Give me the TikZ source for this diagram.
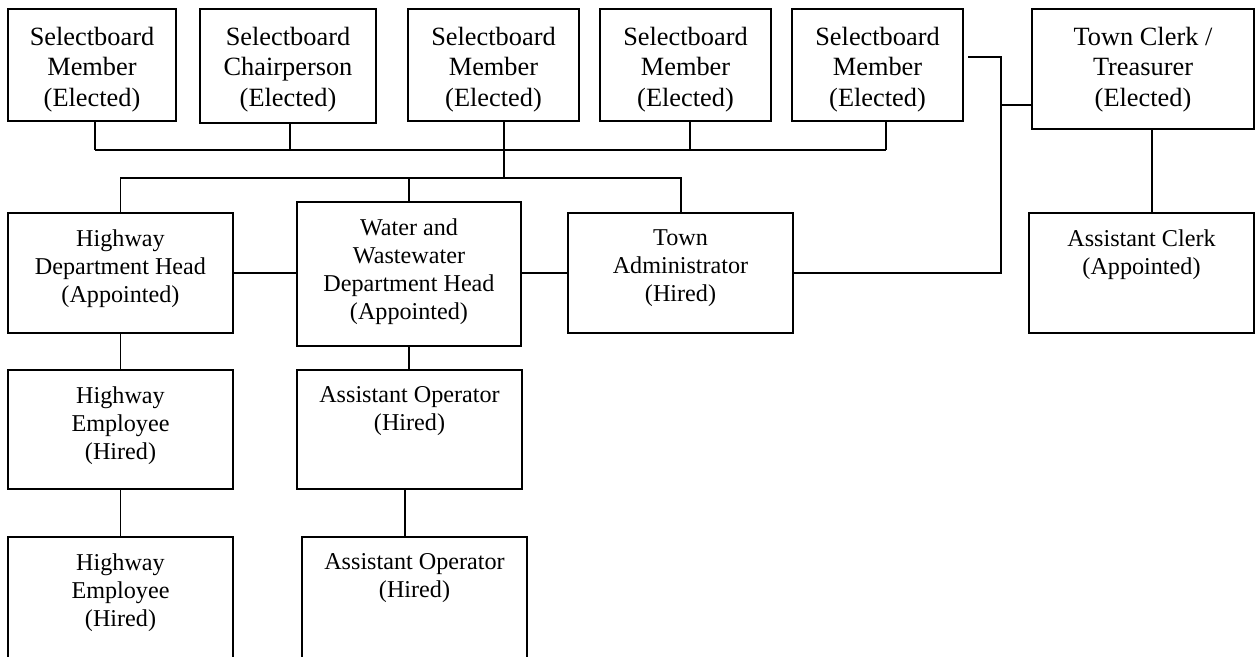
\documentclass[tikz,border=0pt]{standalone}
\usepackage{fontspec}
\setmainfont{Liberation Serif}
\usetikzlibrary{positioning,fit,calc}
\tikzset{
    box/.style={draw, line width=0.9pt, inner sep=0pt},
    bigtxt/.style={inner sep=0pt, align=center, font=\fontsize{12}{13.8}\selectfont},
    smalltxt/.style={inner sep=0pt, align=center, font=\fontsize{11}{12.75}\selectfont},
    link/.style={line width=0.9pt}
}

\begin{document}
\begin{tikzpicture}[x=0.016cm, y=-0.016cm]
    \useasboundingbox (0,0) rectangle (1256,656);
    % boxes
    \node[box, fit={(8,9) (176,121)}] (sb1) {};
    \node[box, fit={(200,9) (376,123)}] (sb2) {};
    \node[box, fit={(408,9) (579,121)}] (sb3) {};
    \node[box, fit={(600,9) (771,121)}] (sb4) {};
    \node[box, fit={(792,9) (963,121)}] (sb5) {};
    \node[box, fit={(1032,9) (1254,129)}] (clerk) {};
    \node[box, fit={(8,213) (233,333)}] (hwyhead) {};
    \node[box, fit={(297,202) (521,346)}] (water) {};
    \node[box, fit={(568,213) (793,333)}] (admin) {};
    \node[box, fit={(1029,213) (1254,333)}] (asstclerk) {};
    \node[box, fit={(8,370) (233,489)}] (hwyemp1) {};
    \node[box, fit={(297,370) (522,489)}] (op1) {};
    \node[box, fit={(8,537) (233,668)}] (hwyemp2) {};
    \node[box, fit={(302,537) (527,668)}] (op2) {};

    % texts
    \node[bigtxt, below=0.30cm of sb1.north] (sb1t) {Selectboard\\Member\\(Elected)};
    \node[bigtxt, below=0.30cm of sb2.north] (sb2t) {Selectboard\\Chairperson\\(Elected)};
    \node[bigtxt, below=0.30cm of sb3.north] (sb3t) {Selectboard\\Member\\(Elected)};
    \node[bigtxt, below=0.30cm of sb4.north] (sb4t) {Selectboard\\Member\\(Elected)};
    \node[bigtxt, below=0.30cm of sb5.north] (sb5t) {Selectboard\\Member\\(Elected)};
    \node[bigtxt, below=0.30cm of clerk.north] (clerkt) {Town Clerk /\\Treasurer\\(Elected)};
    \node[smalltxt, below=0.27cm of hwyhead.north] (hwyheadt) {Highway\\Department Head\\(Appointed)};
    \node[smalltxt, below=0.27cm of water.north] (watert) {Water and\\Wastewater\\Department Head\\(Appointed)};
    \node[smalltxt, below=0.27cm of admin.north] (admint) {Town\\Administrator\\(Hired)};
    \node[smalltxt, below=0.27cm of asstclerk.north] (asstclerkt) {Assistant Clerk\\(Appointed)};
    \node[smalltxt, below=0.27cm of hwyemp1.north] (hwyemp1t) {Highway\\Employee\\(Hired)};
    \node[smalltxt, below=0.27cm of op1.north] (op1t) {Assistant Operator\\(Hired)};
    \node[smalltxt, below=0.27cm of hwyemp2.north] (hwyemp2t) {Highway\\Employee\\(Hired)};
    \node[smalltxt, below=0.27cm of op2.north] (op2t) {Assistant Operator\\(Hired)};

    % connectors
    \coordinate (bus1w) at (95,150);
    \coordinate (bus1e) at (886,150);
    \coordinate (hub) at (504,178);
    \coordinate (riser) at (1001,57);
    \coordinate (stub) at (968,57);
    \coordinate (tap) at (1001,105);
    \draw[link] (bus1w) -- (bus1e);
    \draw[link] (sb1.south -| bus1w) -- (bus1w);
    \draw[link] ([xshift=0.03cm]sb2.south) -- ([xshift=0.03cm]sb2.south |- bus1w);
    \draw[link] ([xshift=0.07cm]sb4.south) -- ([xshift=0.07cm]sb4.south |- bus1w);
    \draw[link] (sb5.south -| bus1e) -- (bus1e);
    \draw[link] (sb3.south -| hub) -- (hub);
    \draw[link] (hwyhead.north) |- (hub) -| (admin.north);
    \draw[link] (water.north) -- (water.north |- hub);
    \draw[link] (hwyhead.east) -- (hwyhead.east -| water.west);
    \draw[link] (admin.west) -- (admin.west -| water.east);
    \draw[link] (admin.east) -| (riser) -- (stub);
    \draw[link] (tap) -- (tap -| clerk.west);
    \draw[link] ([xshift=0.15cm]clerk.south) -- ([xshift=0.15cm]clerk.south |- asstclerk.north);
    \draw[link] (hwyhead.south) -- (hwyemp1.north);
    \draw[link] (water.south) -- (water.south |- op1.north);
    \draw[link] (hwyemp1.south) -- (hwyemp2.north);
    \draw[link] ([xshift=-0.07cm]op1.south) -- ([xshift=-0.07cm]op1.south |- op2.north);
\end{tikzpicture}
\end{document}
